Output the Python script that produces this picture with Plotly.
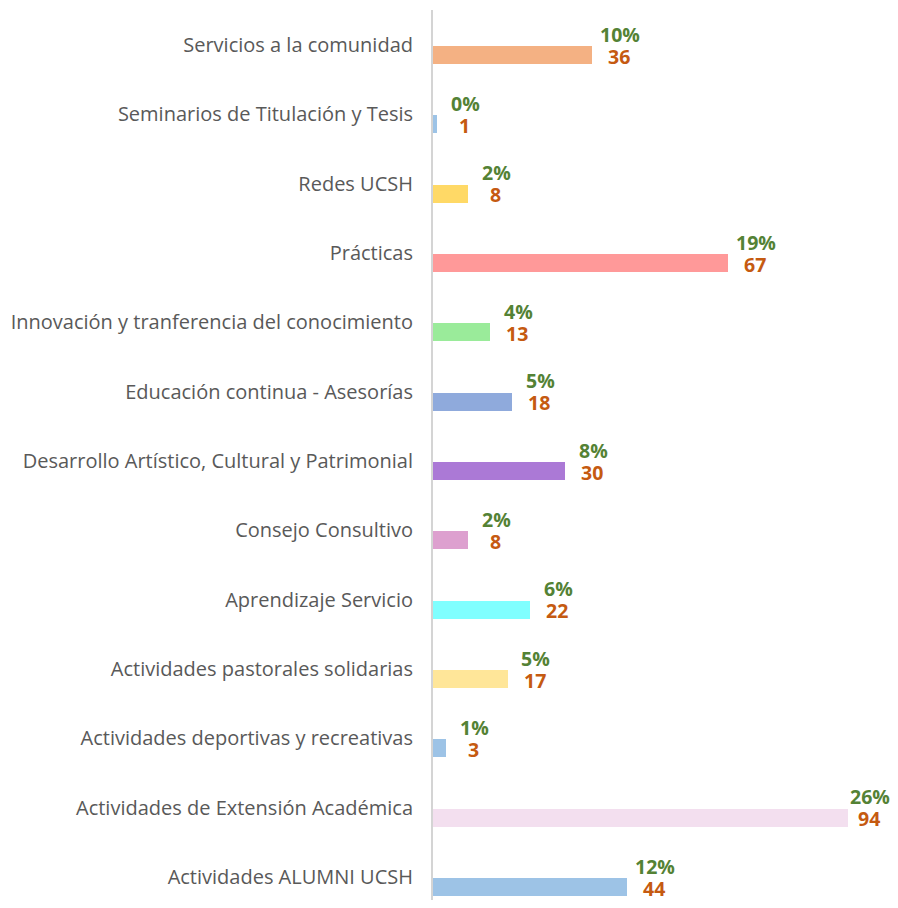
import plotly.graph_objects as go

# bottom to top, as plotly draws categories
categories = [
    "Actividades ALUMNI UCSH",
    "Actividades de Extensión Académica",
    "Actividades deportivas y recreativas",
    "Actividades pastorales solidarias",
    "Aprendizaje Servicio",
    "Consejo Consultivo",
    "Desarrollo Artístico, Cultural y Patrimonial",
    "Educación continua - Asesorías",
    "Innovación y tranferencia del conocimiento",
    "Prácticas",
    "Redes UCSH",
    "Seminarios de Titulación y Tesis",
    "Servicios a la comunidad",
]
counts = [44, 94, 3, 17, 22, 8, 30, 18, 13, 67, 8, 1, 36]
percents = [12, 26, 1, 5, 6, 2, 8, 5, 4, 19, 2, 0, 10]
bar_colors = [
    "#9DC3E6", "#F3DFEF", "#9DC3E6", "#FFE699", "#80FFFF", "#DDA0CF",
    "#AB79D6", "#8FAADC", "#9AEB9A", "#FF9999", "#FFD966", "#9DC3E6", "#F4B183",
]

GREEN = "#548235"
ORANGE = "#C55A11"
LABEL_FONT = "Open Sans"

fig = go.Figure()

fig.add_trace(go.Bar(
    x=counts,
    y=categories,
    orientation='h',
    width=0.26,
    marker=dict(color=bar_colors, line=dict(width=0)),
    hoverinfo='skip',
))

# data labels: percentage stacked over count, centred on a shared box
# (the longest bar's label is pulled in a little so it stays on the page)
for cat, n, p in zip(categories, counts, percents):
    shift = 28 if n < max(counts) else 22
    fig.add_annotation(
        x=n, y=cat, text=f"<b>{p}%</b>",
        showarrow=False, xanchor='center', xshift=shift, yshift=21,
        font=dict(family=LABEL_FONT, size=19.5, color=GREEN),
    )
    fig.add_annotation(
        x=n, y=cat, text=f"<b>{n}</b>",
        showarrow=False, xanchor='center', xshift=shift - 1, yshift=-1,
        font=dict(family=LABEL_FONT, size=19.5, color=ORANGE),
    )

fig.update_layout(
    width=890,
    height=892,
    margin=dict(l=425, r=24, t=2, b=0),
    plot_bgcolor='white',
    paper_bgcolor='white',
    showlegend=False,
    bargap=0,
    xaxis=dict(
        range=[0, 100],
        showgrid=False,
        zeroline=False,
        showticklabels=False,
        showline=False,
    ),
    yaxis=dict(
        type='category',
        range=[-0.1875, 12.649],
        showgrid=False,
        zeroline=False,
        showline=True,
        linecolor='#D4D4D4',
        linewidth=2,
        ticks='',
        ticklabelstandoff=14,
        ticklabelshift=-10,
        tickfont=dict(family=LABEL_FONT, size=20, color="#595959"),
    ),
)

fig.write_html("out.html")
